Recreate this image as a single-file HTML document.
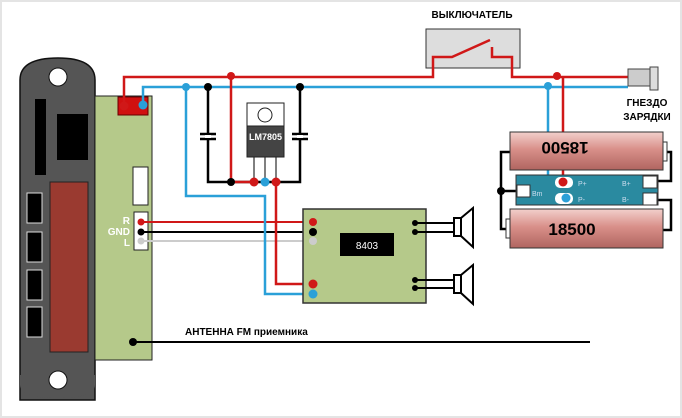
<!DOCTYPE html>
<html><head><style>
body{margin:0;background:#fff}
svg{display:block;font-family:"Liberation Sans",sans-serif}
</style></head><body>
<svg width="682" height="418" viewBox="0 0 682 418">
<rect x="1" y="1" width="680" height="416" fill="#fff" stroke="#e4e4e4" stroke-width="2"/>
<defs>
<linearGradient id="bat" x1="0" y1="0" x2="0" y2="1">
<stop offset="0" stop-color="#f2d0cc"/><stop offset="0.45" stop-color="#d9908a"/><stop offset="1" stop-color="#b06560"/></linearGradient>
</defs>
<!-- device -->
<path d="M20,400 L20,80 Q20,58 58,58 Q95,58 95,80 L95,400 Z" fill="#555" stroke="#111" stroke-width="1.5"/>
<path d="M20,375 L20,385 Q20,398 58,398 Q95,398 95,385 L95,375Z" fill="#555"/>
<circle cx="58" cy="77" r="9" fill="#fff" stroke="#111"/>
<circle cx="58" cy="380" r="9" fill="#fff" stroke="#111"/>
<rect x="35" y="99" width="11" height="76" fill="#000"/>
<rect x="57" y="114" width="31" height="46" fill="#000"/>
<rect x="50" y="182" width="38" height="170" fill="#9a3a30" stroke="#222"/>
<g fill="#000" stroke="#ddd"><rect x="27" y="193" width="15" height="30"/><rect x="27" y="232" width="15" height="30"/><rect x="27" y="270" width="15" height="30"/><rect x="27" y="307" width="15" height="30"/></g>
<rect x="95" y="96" width="57" height="264" fill="#b5c98a" stroke="#222"/>
<rect x="118" y="97" width="30" height="18" fill="#d01010" stroke="#600"/>
<rect x="133" y="167" width="15" height="38" fill="#fff" stroke="#222"/>
<rect x="134" y="212" width="14" height="38" fill="#fff" stroke="#222"/>
<g fill="#fff" font-size="10" font-weight="bold" text-anchor="end"><text x="130" y="224">R</text><text x="130" y="235">GND</text><text x="130" y="246">L</text></g>
<!-- lines to amp -->
<line x1="141" y1="222" x2="313" y2="222" stroke="#d01818" stroke-width="2"/>
<line x1="141" y1="232" x2="313" y2="232" stroke="#000" stroke-width="2"/>
<line x1="141" y1="241" x2="313" y2="241" stroke="#ccc" stroke-width="2"/>
<!-- antenna -->
<line x1="133" y1="342" x2="590" y2="342" stroke="#000" stroke-width="2"/>
<circle cx="133" cy="342" r="4" fill="#000"/>
<text x="185" y="335" font-size="10" font-weight="bold">АНТЕННА FM приемника</text>
<!-- switch -->
<rect x="426" y="29" width="94" height="39" fill="#ddd" stroke="#333"/>
<text x="472" y="18" font-size="10" font-weight="bold" text-anchor="middle">ВЫКЛЮЧАТЕЛЬ</text>
<!-- capacitors, black -->
<g stroke="#000" stroke-width="2.5" fill="none">
<path d="M208,87 V182 H300 V87"/>
<line x1="200" y1="134" x2="216" y2="134"/><line x1="200" y1="139" x2="216" y2="139"/>
<line x1="292" y1="134" x2="308" y2="134"/><line x1="292" y1="139" x2="308" y2="139"/>
</g>
<rect x="205" y="135" width="6" height="3" fill="#fff"/><rect x="297" y="135" width="6" height="3" fill="#fff"/>
<!-- blue -->
<g stroke="#2aa0d8" stroke-width="2.5" fill="none">
<path d="M143,105 V87 H628"/>
<path d="M186,87 V196 H265 V294 H313"/>
<path d="M548,87 V198 H566"/>
</g>
<!-- red -->
<g stroke="#d01818" stroke-width="2.5" fill="none">
<path d="M124,106 V77 H433 V57 H452 L490,40"/>
<path d="M492,47 V57 H512 V77 H628"/>
<path d="M231,77 V182 H254"/>
<path d="M276,182 V284 H313"/>
<path d="M563,77 V182"/>
</g>
<!-- LM7805 -->
<g stroke="#555" stroke-width="1.5"><line x1="254" y1="157" x2="254" y2="181"/><line x1="265" y1="157" x2="265" y2="181"/><line x1="276" y1="157" x2="276" y2="181"/></g>
<rect x="247" y="103" width="37" height="23" fill="#fff" stroke="#222"/>
<circle cx="265" cy="115" r="7" fill="#fff" stroke="#222"/>
<rect x="247" y="126" width="37" height="31" fill="#444" stroke="#222"/>
<text x="265.5" y="140" font-size="9" font-weight="bold" fill="#fff" text-anchor="middle">LM7805</text>
<!-- dots -->
<g fill="#000"><circle cx="208" cy="87" r="4"/><circle cx="300" cy="87" r="4"/><circle cx="231" cy="182" r="4"/></g>
<g fill="#d01818"><circle cx="124" cy="106" r="4.5"/><circle cx="231" cy="76" r="4"/><circle cx="557" cy="76" r="4"/><circle cx="254" cy="182" r="4.5"/><circle cx="276" cy="182" r="4.5"/></g>
<g fill="#2aa0d8"><circle cx="143" cy="105" r="4.5"/><circle cx="186" cy="87" r="4"/><circle cx="548" cy="86" r="4"/><circle cx="265" cy="182" r="4.5"/></g>
<g><circle cx="141" cy="222" r="3.5" fill="#d01818"/><circle cx="141" cy="232" r="3.5" fill="#000"/><circle cx="141" cy="241" r="3.5" fill="#ccc"/></g>
<!-- amp -->
<rect x="303" y="209" width="123" height="94" fill="#b5c98a" stroke="#333" stroke-width="1.5"/>
<rect x="340" y="233" width="54" height="23" fill="#000"/>
<text x="367" y="249" font-size="10" fill="#fff" text-anchor="middle">8403</text>
<circle cx="313" cy="222" r="4" fill="#d01818"/><circle cx="313" cy="232" r="4" fill="#000"/><circle cx="313" cy="241" r="4" fill="#ccc"/>
<circle cx="313" cy="284" r="4.5" fill="#d01818"/><circle cx="313" cy="294" r="4.5" fill="#2aa0d8"/>
<g stroke="#000" stroke-width="2" fill="#fff">
<line x1="415" y1="223" x2="454" y2="223"/><line x1="415" y1="232" x2="454" y2="232"/>
<line x1="415" y1="280" x2="454" y2="280"/><line x1="415" y1="288" x2="454" y2="288"/>
<rect x="454" y="218" width="7" height="18"/><path d="M461,218 L473,208 V247 L461,236Z"/>
<rect x="454" y="275" width="7" height="18"/><path d="M461,275 L473,265 V304 L461,293Z"/>
</g>
<g fill="#000"><circle cx="415" cy="223" r="3"/><circle cx="415" cy="232" r="3"/><circle cx="415" cy="280" r="3"/><circle cx="415" cy="288" r="3"/></g>
<!-- jack -->
<rect x="628" y="69" width="22" height="17" fill="#ccc" stroke="#444"/>
<rect x="650" y="67" width="8" height="23" fill="#ddd" stroke="#444"/>
<text x="647" y="106" font-size="10" font-weight="bold" text-anchor="middle">ГНЕЗДО</text>
<text x="647" y="120" font-size="10" font-weight="bold" text-anchor="middle">ЗАРЯДКИ</text>
<!-- battery wiring -->
<g stroke="#000" stroke-width="2.5" fill="none">
<path d="M510,152 H501 V229 H507"/><path d="M501,191 H518"/>
<path d="M665,152 H671 V181 H652"/><path d="M652,200 H671 V230 H663"/>
</g>
<circle cx="501" cy="191" r="4" fill="#000"/>
<rect x="510" y="132" width="153" height="38" fill="url(#bat)" stroke="#333"/>
<rect x="663" y="142" width="4" height="19" fill="#fff" stroke="#333"/>
<text x="565" y="160" font-size="17" font-weight="bold" text-anchor="middle" transform="rotate(180 565 151)">18500</text>
<rect x="510" y="209" width="153" height="39" fill="url(#bat)" stroke="#333"/>
<rect x="506" y="219" width="4" height="19" fill="#fff" stroke="#333"/>
<text x="572" y="235" font-size="17" font-weight="bold" text-anchor="middle">18500</text>
<rect x="516" y="175" width="142" height="30" fill="#2a8aa0" stroke="#333"/>
<rect x="517" y="185" width="13" height="12" fill="#fff" stroke="#333"/>
<rect x="643" y="176" width="14" height="12" fill="#fff" stroke="#333"/>
<rect x="643" y="193" width="14" height="12" fill="#fff" stroke="#333"/>
<rect x="555" y="177" width="18" height="11" rx="5" fill="#fff"/>
<rect x="555" y="193" width="18" height="11" rx="5" fill="#fff"/>
<g fill="#cde" font-size="7"><text x="578" y="186">P+</text><text x="578" y="202">P-</text><text x="622" y="186">B+</text><text x="622" y="202">B-</text><text x="532" y="196">Bm</text></g>
<circle cx="563" cy="182" r="4.5" fill="#d01818"/>
<circle cx="566" cy="198" r="4.5" fill="#2aa0d8"/>
</svg>
</body></html>
